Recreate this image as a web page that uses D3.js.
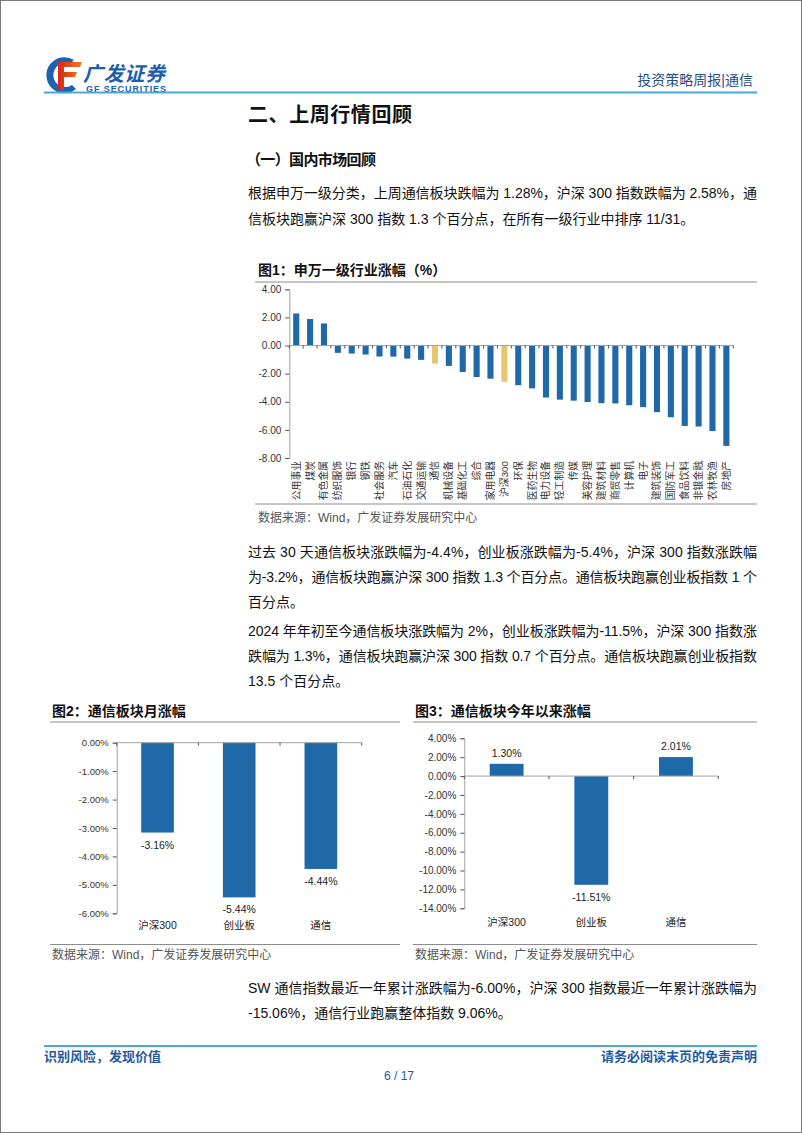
<!DOCTYPE html>
<html><head><meta charset="utf-8">
<script src="https://cdn.jsdelivr.net/npm/d3@7"></script>
<style>
html,body{margin:0;padding:0;background:#fff;}
svg text{font-family:'Liberation Sans','Noto Sans CJK SC',sans-serif;}
</style></head>
<body>
<script>
// ---------- DATA ----------
const industries = ["公用事业","煤炭","有色金属","纺织服饰","银行","钢铁","社会服务","汽车","石油石化","交通运输","通信","机械设备","基础化工","综合","家用电器","沪深300","环保","医药生物","电力设备","轻工制造","传媒","美容护理","建筑材料","商贸零售","计算机","电子","建筑装饰","国防军工","食品饮料","非银金融","农林牧渔","房地产"];
const industryValues = [2.28,1.89,1.57,-0.52,-0.57,-0.64,-0.78,-0.79,-0.93,-1.02,-1.28,-1.45,-1.88,-2.24,-2.36,-2.58,-2.82,-3.05,-3.70,-3.85,-3.92,-4.02,-4.10,-4.12,-4.25,-4.38,-4.74,-5.10,-5.72,-5.76,-6.08,-7.14];
const highlighted = ["通信","沪深300"];
const industryTicks = [4,2,0,-2,-4,-6,-8];

const indexNames = ["沪深300","创业板","通信"];
const monthValues = [-3.16,-5.44,-4.44];
const monthTicks = [0,-1,-2,-3,-4,-5,-6];
const ytdValues = [1.30,-11.51,2.01];
const ytdTicks = [4,2,0,-2,-4,-6,-8,-10,-12,-14];

// ---------- PAGE ----------
const W = 802, H = 1133;
const BLUE = "#1f69a8", GOLD = "#e6c770", GRAY = "#8c8c8c";
const f2 = v => d3.format(".2f")(v).replace("\u2212", "-");
const svg = d3.select("body").append("svg").attr("width", W).attr("height", H);
svg.append("rect").attr("x",0.5).attr("y",0.5).attr("width",W-1).attr("height",H-1)
  .attr("fill","#fff").attr("stroke","#7a7a7a");

function txt(x, y, s, o = {}) {
  const t = svg.append("text").attr("x", x).attr("y", y).text(s)
    .attr("font-size", o.size || 14).attr("fill", o.fill || "#111")
    .attr("font-weight", o.weight || "normal")
    .attr("text-anchor", o.anchor || "start");
  if (o.len) t.attr("textLength", o.len).attr("lengthAdjust", "spacing");
  if (o.style) t.attr("font-style", o.style);
  return t;
}
function hline(x1, x2, y, col, w) {
  svg.append("line").attr("x1",x1).attr("x2",x2).attr("y1",y).attr("y2",y)
    .attr("stroke",col).attr("stroke-width",w);
}

// header logo
const lg = svg.append("g");
const grad = svg.append("defs").append("linearGradient").attr("id","rg").attr("x1",0).attr("x2",1);
grad.append("stop").attr("offset",0).attr("stop-color","#d9261c");
grad.append("stop").attr("offset",1).attr("stop-color","#f07a1e");
lg.append("path").attr("d","M74 60 A18 18 0 1 0 76 89 L72 85 A12 12 0 1 1 70 64 Z").attr("fill","#1c62b0");
lg.append("path").attr("d","M58 62 H82 L80 67 H64 V72 H77 L75 77 H64 V90 H58 Z").attr("fill","url(#rg)");
txt(83, 81, "广发证券", {size:20, weight:"bold", fill:"#1d5eab", style:"italic", len:82});
txt(86, 91.5, "GF SECURITIES", {size:9, weight:"bold", fill:"#1d5eab", len:80});
txt(753, 85, "投资策略周报|通信", {size:14, fill:"#2a4f7f", anchor:"end"});
hline(44, 757, 92.5, "#4aa8d8", 2.2);

// headings
txt(248, 122, "二、上周行情回顾", {size:20, weight:"bold", len:164});
txt(246, 165, "（一）国内市场回顾", {size:15, weight:"bold", len:130});

// paragraphs
const bodyLines = [
  [193, "根据申万一级分类，上周通信板块跌幅为 1.28%，沪深 300 指数跌幅为 2.58%，通", true],
  [219, "信板块跑赢沪深 300 指数 1.3 个百分点，在所有一级行业中排序 11/31。", false],
  [552, "过去 30 天通信板块涨跌幅为-4.4%，创业板涨跌幅为-5.4%，沪深 300 指数涨跌幅", true],
  [577, "为-3.2%，通信板块跑赢沪深 300 指数 1.3 个百分点。通信板块跑赢创业板指数 1 个", true],
  [602, "百分点。", false],
  [631, "2024 年年初至今通信板块涨跌幅为 2%，创业板涨跌幅为-11.5%，沪深 300 指数涨", true],
  [656, "跌幅为 1.3%，通信板块跑赢沪深 300 指数 0.7 个百分点。通信板块跑赢创业板指数", true],
  [681, "13.5 个百分点。", false],
  [988, "SW 通信指数最近一年累计涨跌幅为-6.00%，沪深 300 指数最近一年累计涨跌幅为", true],
  [1013, "-15.06%，通信行业跑赢整体指数 9.06%。", false]
];
bodyLines.forEach(([y, s, j]) => txt(248, y + 5, s, {size:14, len: j ? 509 : null}));

// footer
hline(44, 757, 1046, "#4aa8d8", 2.2);
txt(44, 1061, "识别风险，发现价值", {size:13, fill:"#1f5aa0", weight:"bold"});
txt(757, 1061, "请务必阅读末页的免责声明", {size:13, fill:"#1f5aa0", weight:"bold", anchor:"end"});
txt(399, 1080, "6 / 17", {size:12, fill:"#1f5aa0", anchor:"middle"});

// ---------- helpers for charts ----------
function styleAxis(g) {
  g.select(".domain").attr("stroke", "#a0a0a0");
  g.selectAll(".tick line").attr("stroke", "#555");
  g.selectAll(".tick text").attr("fill", "#333")
    .attr("font-family", "'Liberation Sans',Arial,sans-serif");
}
function catTicks(g, x, y0) {
  const n = x.domain().length;
  const pos = d3.range(n + 1).map(i => x.range()[0] + i * x.step());
  g.append("line").attr("x1", x.range()[0]).attr("x2", x.range()[1])
    .attr("y1", y0).attr("y2", y0).attr("stroke", "#a0a0a0");
  g.selectAll(null).data(pos).join("line")
    .attr("x1", d => d).attr("x2", d => d).attr("y1", y0).attr("y2", y0 + 3)
    .attr("stroke", "#555");
}

// ---------- Chart 1 ----------
txt(258, 275, "图1：申万一级行业涨幅（%）", {size:14, weight:"bold"});
hline(255, 757, 282, GRAY, 1.2);
{
  const g = svg.append("g");
  const x = d3.scaleBand().domain(industries).range([289.3, 733.3]).paddingInner(0.56).paddingOuter(0.28);
  const y = d3.scaleLinear().domain([-8, 4]).range([458, 289.3]);
  g.selectAll("rect").data(industries).join("rect")
    .attr("x", d => x(d)).attr("width", x.bandwidth())
    .attr("y", (d, i) => y(Math.max(0, industryValues[i])))
    .attr("height", (d, i) => Math.abs(y(industryValues[i]) - y(0)))
    .attr("fill", d => highlighted.includes(d) ? GOLD : BLUE);
  const ay = g.append("g").attr("transform", "translate(289.3,0)")
    .call(d3.axisLeft(y).tickValues(industryTicks).tickFormat(f2).tickSize(4).tickPadding(4))
    .attr("font-size", 10);
  styleAxis(ay);
  catTicks(g, x, y(0));
  g.selectAll("text.cat").data(industries).join("text").attr("class", "cat")
    .attr("transform", d => `translate(${x(d) + x.bandwidth() / 2},461) rotate(-90)`)
    .attr("text-anchor", "end").attr("dominant-baseline", "central")
    .attr("font-size", 9.8).attr("fill", "#333").text(d => d);
}
hline(255, 757, 504, GRAY, 1);
txt(258, 522, "数据来源：Wind，广发证券发展研究中心", {size:12, fill:"#555"});

// ---------- Chart 2 & 3 ----------
function smallChart(o) {
  txt(o.tx, 716, o.title, {size:14, weight:"bold"});
  hline(o.lx1, o.lx2, 722, GRAY, 1.2);
  const g = svg.append("g");
  const x = d3.scaleBand().domain(indexNames).range(o.xr).paddingInner(0.6).paddingOuter(0.3);
  const y = d3.scaleLinear().domain(o.dom).range(o.yr);
  g.selectAll("rect").data(indexNames).join("rect")
    .attr("x", d => x(d)).attr("width", x.bandwidth())
    .attr("y", (d, i) => y(Math.max(0, o.vals[i])))
    .attr("height", (d, i) => Math.abs(y(o.vals[i]) - y(0)))
    .attr("fill", BLUE);
  const ay = g.append("g").attr("transform", `translate(${o.xr[0]},0)`)
    .call(d3.axisLeft(y).tickValues(o.ticks).tickFormat(d => f2(d) + "%").tickSize(4).tickPadding(4))
    .attr("font-size", o.fs);
  styleAxis(ay);
  catTicks(g, x, y(0));
  g.selectAll("text.val").data(indexNames).join("text").attr("class", "val")
    .attr("x", d => x(d) + x.bandwidth() / 2)
    .attr("y", (d, i) => o.vals[i] < 0 ? y(o.vals[i]) + 12 : y(o.vals[i]) - 11)
    .attr("dominant-baseline", "central").attr("text-anchor", "middle")
    .attr("font-size", 10.5).attr("fill", "#222")
    .text((d, i) => f2(o.vals[i]) + "%");
  g.selectAll("text.cat").data(indexNames).join("text").attr("class", "cat")
    .attr("x", d => x(d) + x.bandwidth() / 2).attr("y", o.catY)
    .attr("dominant-baseline", "central").attr("text-anchor", "middle")
    .attr("font-size", 10.5).attr("fill", "#222").text(d => d);
  hline(o.lx1, o.lx2, 944.5, GRAY, 1);
  txt(o.tx, 959, "数据来源：Wind，广发证券发展研究中心", {size:12, fill:"#555"});
}
smallChart({title:"图2：通信板块月涨幅", tx:52, lx1:50, lx2:400, xr:[116.7, 361.7],
  dom:[-6, 0], yr:[913.3, 742.7], vals:monthValues, ticks:monthTicks, fs:9.5, catY:925});
smallChart({title:"图3：通信板块今年以来涨幅", tx:415, lx1:413, lx2:757, xr:[464.3, 718.3],
  dom:[-14, 4], yr:[908.3, 738.3], vals:ytdValues, ticks:ytdTicks, fs:10, catY:922});
</script>
</body></html>
